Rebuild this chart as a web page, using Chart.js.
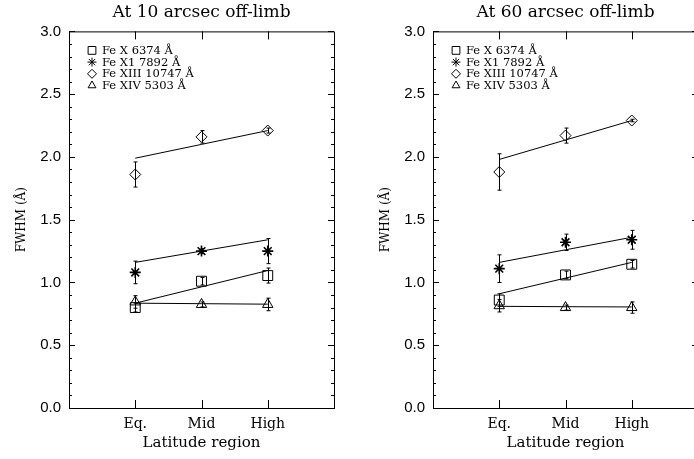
<!DOCTYPE html>
<html>
<head>
<meta charset="utf-8">
<script src="https://cdn.jsdelivr.net/npm/chart.js@4.4.1/dist/chart.umd.min.js"></script>
<style>
html, body { margin: 0; padding: 0; background: #fff; overflow: hidden; width: 694px; height: 459px; }
.panel { position: absolute; top: 0; width: 347px; height: 459px; }
#left { left: 0; }
#right { left: 364px; }
</style>
</head>
<body>
<div class="panel" id="left"><canvas id="chart10"></canvas></div>
<div class="panel" id="right"><canvas id="chart60"></canvas></div>
<script>
// categories and series
const categories = ['Eq.', 'Mid', 'High'];
const seriesNames = ['Fe X 6374 Å', 'Fe X1 7892 Å', 'Fe XIII 10747 Å', 'Fe XIV 5303 Å'];
const markers = ['rect', 'star', 'rectRot', 'triangle'];

// At 10 arcsec off-limb : FWHM, error, linear fit
const fwhm10_FeX = [0.80, 1.01, 1.055];
const err10_FeX = [0.035, 0.03, 0.06];
const fit10_FeX = [0.835, 0.965, 1.095];
const fwhm10_FeX1 = [1.08, 1.25, 1.25];
const err10_FeX1 = [0.09, 0.02, 0.10];
const fit10_FeX1 = [1.16, 1.25, 1.34];
const fwhm10_FeXIII = [1.86, 2.16, 2.21];
const err10_FeXIII = [0.10, 0.05, 0.02];
const fit10_FeXIII = [1.99, 2.10, 2.21];
const fwhm10_FeXIV = [0.845, 0.825, 0.825];
const err10_FeXIV = [0.05, 0.02, 0.05];
const fit10_FeXIV = [0.835, 0.831, 0.827];

// At 60 arcsec off-limb
const fwhm60_FeX = [0.86, 1.06, 1.145];
const err60_FeX = [0.05, 0.03, 0.03];
const fit60_FeX = [0.91, 1.035, 1.16];
const fwhm60_FeX1 = [1.11, 1.32, 1.34];
const err60_FeX1 = [0.11, 0.065, 0.075];
const fit60_FeX1 = [1.16, 1.26, 1.36];
const fwhm60_FeXIII = [1.88, 2.17, 2.29];
const err60_FeXIII = [0.145, 0.06, 0.01];
const fit60_FeXIII = [1.98, 2.135, 2.29];
const fwhm60_FeXIV = [0.815, 0.80, 0.80];
const err60_FeXIV = [0.05, 0.02, 0.045];
const fit60_FeXIV = [0.81, 0.807, 0.805];

// y axis
const yMin = 0, yMax = 3, yStep = 0.5, yMinor = 0.1;

const serif = 'DejaVu Serif';
const markerSize = { rect: 7, star: 5.5, rectRot: 5.5, triangle: 6 };

const toPts = (arr) => arr.map((v, i) => ({ x: i + 1, y: v }));

// error bars, box, inward ticks and legend
const decor = {
  id: 'decor',
  afterDatasetsDraw(chart) {
    const { ctx, scales: { x, y } } = chart;
    ctx.save();
    ctx.strokeStyle = '#000';
    ctx.lineWidth = 1;
    chart.data.datasets.forEach(ds => {
      if (!ds.err) return;
      ds.data.forEach((p, i) => {
        const px = Math.round(x.getPixelForValue(p.x)) + 0.5;
        const y1 = y.getPixelForValue(p.y + ds.err[i]);
        const y2 = y.getPixelForValue(p.y - ds.err[i]);
        ctx.beginPath();
        ctx.moveTo(px, y1); ctx.lineTo(px, y2);
        ctx.moveTo(px - 2, y1); ctx.lineTo(px + 2, y1);
        ctx.moveTo(px - 2, y2); ctx.lineTo(px + 2, y2);
        ctx.stroke();
      });
    });
    ctx.restore();
  },
  afterDraw(chart) {
    const { ctx, chartArea: a, scales: { x, y } } = chart;
    ctx.save();
    ctx.strokeStyle = '#000';
    ctx.lineWidth = 1;
    ctx.beginPath();
    // top and right sides of the box
    ctx.moveTo(a.left, a.top + 0.5); ctx.lineTo(a.right + 0.5, a.top + 0.5);
    ctx.lineTo(a.right + 0.5, a.bottom);
    // y ticks, both sides
    for (let k = 0; k <= Math.round((yMax - yMin) / yMinor); k++) {
      const v = yMin + k * yMinor;
      const py = Math.round(y.getPixelForValue(v)) + 0.5;
      const len = (k % 5 === 0) ? 6 : 3;
      ctx.moveTo(a.left, py); ctx.lineTo(a.left + len, py);
      ctx.moveTo(a.right, py); ctx.lineTo(a.right - len, py);
    }
    // x ticks, top and bottom
    categories.forEach((c, i) => {
      const px = Math.round(x.getPixelForValue(i + 1)) + 0.5;
      ctx.moveTo(px, a.bottom); ctx.lineTo(px, a.bottom - 8);
      ctx.moveTo(px, a.top); ctx.lineTo(px, a.top + 8);
    });
    ctx.stroke();

    // legend
    ctx.font = '11.5px "' + serif + '"';
    ctx.textBaseline = 'middle';
    seriesNames.forEach((name, i) => {
      const ly = a.top + 19 + i * 11.7;
      const lx = a.left + 23;
      ctx.fillStyle = 'rgba(0,0,0,0)';
      Chart.helpers.drawPoint(ctx, {
        pointStyle: markers[i], radius: markers[i] === 'rect' ? 5.5 : 4.5, rotation: 0, borderWidth: 1
      }, lx, ly);
      ctx.fillStyle = '#000';
      ctx.fillText(name, lx + 10, ly + 0.5);
    });
    ctx.restore();
  }
};

function makePanel(id, title, vals, errs, fits) {
  const datasets = [];
  seriesNames.forEach((name, i) => {
    datasets.push({
      label: name,
      data: toPts(vals[i]),
      err: errs[i],
      showLine: false,
      pointStyle: markers[i],
      pointRadius: markerSize[markers[i]],
      pointHoverRadius: markerSize[markers[i]],
      borderColor: '#000',
      backgroundColor: 'rgba(0,0,0,0)',
      pointBorderWidth: markers[i] === 'star' ? 1.6 : 1
    });
    datasets.push({
      label: name + ' fit',
      data: toPts(fits[i]),
      showLine: true,
      pointRadius: 0,
      borderColor: '#000',
      borderWidth: 1,
      fill: false
    });
  });

  return new Chart(document.getElementById(id), {
    type: 'scatter',
    data: { datasets },
    options: {
      responsive: true,
      maintainAspectRatio: false,
      animation: false,
      events: [],
      layout: { padding: { left: 0, right: 13, top: 0, bottom: 0 } },
      plugins: {
        legend: { display: false },
        tooltip: { enabled: false },
        title: {
          display: true,
          text: title,
          fullSize: false,
          color: '#000',
          font: { family: serif, size: 17, weight: 'normal' },
          padding: { top: 2, bottom: 9 }
        }
      },
      scales: {
        x: {
          type: 'linear',
          min: 0,
          max: categories.length + 1,
          afterBuildTicks: s => { s.ticks = categories.map((c, i) => ({ value: i + 1 })); },
          afterFit: s => { s.height = 51; },
          grid: { display: false },
          border: { display: true, color: '#000', width: 1 },
          ticks: {
            color: '#000',
            font: { family: serif, size: 14 },
            padding: 0,
            maxRotation: 0,
            callback: v => categories[v - 1] || ''
          },
          title: {
            display: true,
            text: 'Latitude region',
            color: '#000',
            font: { family: serif, size: 15 },
            padding: { top: 0, bottom: 7 }
          }
        },
        y: {
          min: yMin,
          max: yMax,
          afterFit: s => { s.width = 69; },
          grid: { display: false },
          border: { display: true, color: '#000', width: 1 },
          ticks: {
            stepSize: yStep,
            color: '#000',
            font: { family: 'Liberation Sans', size: 15 },
            padding: 0,
            callback: v => v.toFixed(1)
          },
          title: {
            display: true,
            text: 'FWHM (Å)',
            color: '#000',
            font: { family: serif, size: 12 },
            padding: { top: 15, bottom: 0 }
          }
        }
      }
    },
    plugins: [decor]
  });
}

makePanel('chart10', 'At 10 arcsec off-limb',
  [fwhm10_FeX, fwhm10_FeX1, fwhm10_FeXIII, fwhm10_FeXIV],
  [err10_FeX, err10_FeX1, err10_FeXIII, err10_FeXIV],
  [fit10_FeX, fit10_FeX1, fit10_FeXIII, fit10_FeXIV]);

makePanel('chart60', 'At 60 arcsec off-limb',
  [fwhm60_FeX, fwhm60_FeX1, fwhm60_FeXIII, fwhm60_FeXIV],
  [err60_FeX, err60_FeX1, err60_FeXIII, err60_FeXIV],
  [fit60_FeX, fit60_FeX1, fit60_FeXIII, fit60_FeXIV]);
</script>
</body>
</html>
